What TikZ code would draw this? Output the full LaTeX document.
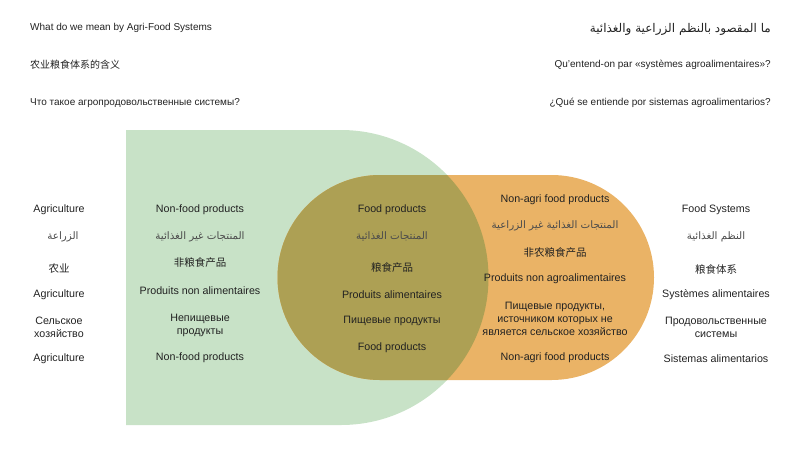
\documentclass[tikz,border=0pt]{standalone}
\usepackage{fontspec}
\setmainfont{Liberation Sans}
\newfontfamily\arabicfont[Script=Arabic]{DejaVu Sans}
\newfontfamily\cjkfont{Noto Sans CJK SC}
\TeXXeTstate=1
\definecolor{agrigreen}{HTML}{C8E2C7}
\definecolor{foodorange}{HTML}{EAB366}
\definecolor{overlapolive}{HTML}{ADA054}
\definecolor{labelgray}{HTML}{222222}

\begin{document}
\begin{tikzpicture}[x=1pt,y=1pt,
    lbl/.style={inner sep=0pt,yshift=-2pt,text=labelgray,align=center,font=\fontsize{10.7}{13}\selectfont},
    title/.style={lbl,font=\fontsize{10}{12}\selectfont},
    ar/.style={inner sep=0pt,yshift=-2pt,text=black!70,font=\arabicfont\fontsize{10.3}{12}\selectfont},
    zh/.style={inner sep=0pt,yshift=-2pt,text=labelgray,font=\cjkfont\fontsize{10.5}{13}\selectfont}]
  \useasboundingbox (0,0) rectangle (800,-450);

  % the two regions and their overlap
  \fill[agrigreen] (126,-130) -- (341,-130) arc (90:-90:147.5) -- (126,-425) -- cycle;
  \fill[foodorange] (380,-175) -- (551.5,-175) arc (90:-90:102.5) -- (380,-380) arc (270:90:102.5) -- cycle;
  \begin{scope}
    \clip (126,-130) -- (341,-130) arc (90:-90:147.5) -- (126,-425) -- cycle;
    \fill[overlapolive] (380,-175) -- (551.5,-175) arc (90:-90:102.5) -- (380,-380) arc (270:90:102.5) -- cycle;
  \end{scope}

  % titles
  \node[title,anchor=west] (titleEn) at (30,-26) {What do we mean by Agri-Food Systems};
  \node[zh,font=\cjkfont\fontsize{10}{12}\selectfont,anchor=west] (titleZh) at (30,-63) {农业粮食体系的含义};
  \node[title,anchor=west] (titleRu) at (30,-101) {Что такое агропродовольственные системы?};
  \node[ar,text=labelgray,font=\arabicfont\fontsize{12}{14}\selectfont,anchor=east] (titleAr) at (771,-27) {\beginR ما المقصود بالنظم الزراعية والغذائية\endR};
  \node[title,anchor=east] (titleFr) at (771,-63) {Qu’entend-on par «systèmes agroalimentaires»?};
  \node[title,anchor=east] (titleEs) at (771,-101) {¿Qué se entiende por sistemas agroalimentarios?};

  % agriculture
  \node[lbl] (agriEn) at (59,-208) {Agriculture};
  \node[ar] (agriAr) at (63,-235) {\beginR الزراعة\endR};
  \node[zh] (agriZh) at (59,-267) {农业};
  \node[lbl] (agriFr) at (59,-293) {Agriculture};
  \node[lbl] (agriRu) at (59,-325) {Сельское\\хозяйство};
  \node[lbl] (agriEs) at (59,-357) {Agriculture};

  % non-food products
  \node[lbl] (nonfoodEn) at (200,-208) {Non-food products};
  \node[ar] (nonfoodAr) at (200,-235) {\beginR المنتجات غير الغذائية\endR};
  \node[zh] (nonfoodZh) at (200,-261) {非粮食产品};
  \node[lbl] (nonfoodFr) at (200,-289) {Produits non alimentaires};
  \node[lbl] (nonfoodRu) at (200,-323) {Непищевые\\продукты};
  \node[lbl] (nonfoodEs) at (200,-356) {Non-food products};

  % food products
  \node[lbl] (foodEn) at (392,-208) {Food products};
  \node[ar] (foodAr) at (392,-234) {\beginR المنتجات الغذائية\endR};
  \node[zh] (foodZh) at (392,-266) {粮食产品};
  \node[lbl] (foodFr) at (392,-293) {Produits alimentaires};
  \node[lbl] (foodRu) at (392,-319) {Пищевые продукты};
  \node[lbl] (foodEs) at (392,-346) {Food products};

  % non-agri food products
  \node[lbl] (nonagriEn) at (555,-198) {Non-agri food products};
  \node[ar] (nonagriAr) at (555,-224) {\beginR المنتجات الغذائية غير الزراعية\endR};
  \node[zh] (nonagriZh) at (555,-251) {非农粮食产品};
  \node[lbl] (nonagriFr) at (555,-277) {Produits non agroalimentaires};
  \node[lbl] (nonagriRu) at (555,-317) {Пищевые продукты,\\источником которых не\\является сельское хозяйство};
  \node[lbl] (nonagriEs) at (555,-356) {Non-agri food products};

  % food systems
  \node[lbl] (systemsEn) at (716,-208) {Food Systems};
  \node[ar] (systemsAr) at (716,-235) {\beginR النظم الغذائية\endR};
  \node[zh] (systemsZh) at (716,-267) {粮食体系};
  \node[lbl] (systemsFr) at (716,-293) {Systèmes alimentaires};
  \node[lbl] (systemsRu) at (716,-325) {Продовольственные\\системы};
  \node[lbl] (systemsEs) at (716,-357) {Sistemas alimentarios};
\end{tikzpicture}
\end{document}
